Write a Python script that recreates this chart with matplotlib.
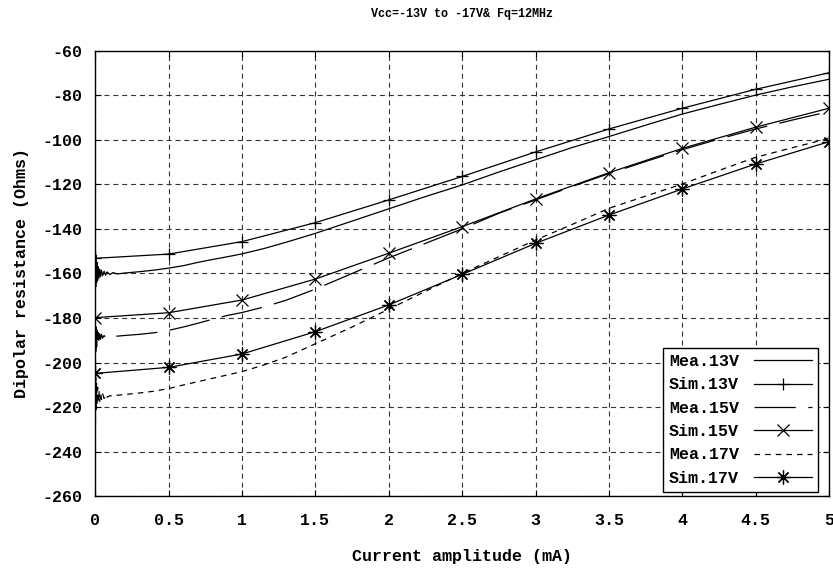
import matplotlib
matplotlib.use("Agg")
import matplotlib.pyplot as plt

# simulated curves, one point every 0.5 mA
sim_x = [0, 0.5, 1, 1.5, 2, 2.5, 3, 3.5, 4, 4.5, 5]
sim13 = [-153.2, -151.3, -145.7, -137.2, -127.0, -116.5, -105.5, -95.2, -85.9, -77.4, -70.0]
sim15 = [-179.8, -177.6, -171.9, -162.5, -150.9, -139.0, -126.6, -114.8, -103.9, -94.4, -85.9]
sim17 = [-204.8, -202.1, -196.1, -186.1, -174.1, -160.4, -146.5, -133.8, -122.1, -110.9, -100.9]

# measured curves (noisy start near 0 mA)
mea_x = [0, 0.003, 0.006, 0.009, 0.012, 0.016, 0.02, 0.025, 0.03, 0.036, 0.042, 0.05,
         0.06, 0.07, 0.08, 0.1, 0.12, 0.15, 0.2, 0.3, 0.4, 0.5, 0.6, 0.7, 0.8, 0.9, 1.0,
         1.15, 1.3, 1.5, 1.75, 2.0, 2.25, 2.5, 2.75, 3.0, 3.25, 3.5, 3.75, 4.0, 4.25,
         4.5, 4.75, 5.0]
mea13 = [-143, -166, -152, -164, -155, -163, -157, -162, -158, -161.5, -158.5, -161,
         -159, -160.8, -159.3, -160.5, -159.6, -160.2, -159.8, -159.2, -158.5, -157.6,
         -156.5, -155, -153.7, -152.5, -151.2, -148.8, -146, -142, -136.5, -131,
         -125.5, -120.3, -114.5, -109, -103.5, -98.6, -93.5, -88.5, -84.2, -80,
         -76.3, -72.9]
mea15 = [-181, -195, -184, -193, -185.5, -191, -186.5, -190, -187, -189.5, -187.3, -189,
         -187.8, -188.7, -188, -188.4, -188, -188.1, -187.8, -187.3, -186.6, -185.5,
         -184, -182.3, -180.5, -178.8, -177.5, -175, -172, -167, -160, -153, -146.5,
         -140, -133, -127, -121, -115.2, -109.8, -104.5, -99.7, -95.2, -91.2, -87.4]
mea17 = [-236, -207, -221, -209, -219, -211, -218, -212.5, -217.5, -213.5, -216.5, -214,
         -216, -214.5, -215.5, -214.8, -215, -214.6, -214.3, -213.6, -212.8, -211.6,
         -210, -208.5, -207, -205.5, -204, -201, -197.5, -191.5, -184, -176, -168,
         -160, -152.5, -145, -138, -130.8, -125.3, -119.9, -113.8, -107.9, -103.6, -99.4]

xticks = [0, 0.5, 1, 1.5, 2, 2.5, 3, 3.5, 4, 4.5, 5]
xticklabels = ["0", "0.5", "1", "1.5", "2", "2.5", "3", "3.5", "4", "4.5", "5"]
yticks = list(range(-260, -59, 20))

plt.rcParams["font.family"] = ["Liberation Mono", "DejaVu Sans Mono"]
plt.rcParams["font.weight"] = "bold"
plt.rcParams["axes.unicode_minus"] = False

fig = plt.figure(figsize=(8.33, 5.70), dpi=100)
ax = fig.add_axes([0.1144, 0.129, 0.8808, 0.7824])

lw = 0.9
ax.plot(mea_x, mea13, color="black", lw=lw, label="Mea.13V")
ax.plot(sim_x, sim13, color="black", lw=lw, marker="+", ms=9, mew=0.9, label="Sim.13V")
ax.plot(mea_x, mea15, color="black", lw=lw, dashes=(33, 10), label="Mea.15V")
ax.plot(sim_x, sim15, color="black", lw=lw, marker="x", ms=9, mew=0.9, label="Sim.15V")
ax.plot(mea_x, mea17, color="black", lw=lw, dashes=(4.5, 4), label="Mea.17V")
ax.plot(sim_x, sim17, color="black", lw=lw, marker=(8, 2, 0), ms=10, mew=0.9, label="Sim.17V")

ax.set_xlim(0, 5)
ax.set_ylim(-260, -60)
ax.set_xticks(xticks)
ax.set_xticklabels(xticklabels)
ax.set_yticks(yticks)
ax.tick_params(direction="in", length=4, top=True, right=True, labelsize=12)
ax.tick_params(axis="x", pad=12)
ax.tick_params(axis="y", pad=9)
ax.grid(True, color="#333333", lw=0.8, dashes=(4.5, 3.5))
for s in ax.spines.values():
    s.set_linewidth(1)

ax.set_title("Vcc=-13V to -17V& Fq=12MHz", fontsize=8.5, fontweight="bold", pad=24)
ax.set_xlabel("Current amplitude (mA)", fontsize=12, fontweight="bold", labelpad=15)
ax.set_ylabel("Dipolar resistance (Ohms)", fontsize=12, fontweight="bold", labelpad=10)

leg = ax.legend(loc="lower right", bbox_to_anchor=(0.985, 0.011), borderaxespad=0,
                markerfirst=False, fancybox=False, framealpha=1, edgecolor="black",
                fontsize=12, handlelength=3.5, handletextpad=0.9, labelspacing=0.5,
                borderpad=0.35)
leg.get_frame().set_linewidth(1)

fig.savefig("out.png", dpi=100)
